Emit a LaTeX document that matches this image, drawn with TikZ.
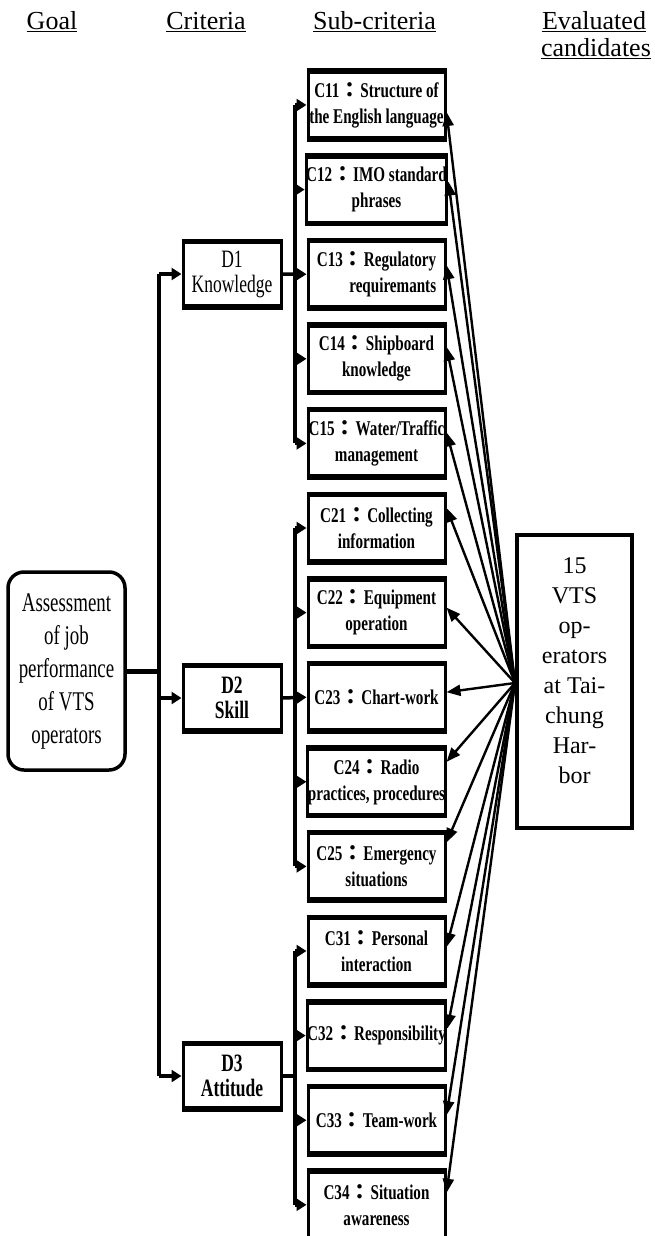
\documentclass[tikz,border=0pt]{standalone}
\usepackage{fontspec}
\setmainfont{Liberation Serif}
\newfontfamily\cond[FakeStretch=0.72]{Liberation Serif}
\newfontfamily\condd[FakeStretch=0.7]{Liberation Serif}
\newfontfamily\condgoal[FakeStretch=0.7]{Liberation Serif}
\newfontfamily\cjk{Noto Sans CJK TC}
\usetikzlibrary{arrows.meta}
\newcommand\fc{{\cjk ：}}
\newcommand\subfont{\cond\bfseries\fontsize{21}{26}\selectfont}
\newcommand\dfont{\condd\fontsize{25}{25}\selectfont}
\tikzset{
  sub/.style={draw, line width=3pt, minimum width=137pt, minimum height=70pt, inner sep=0pt, align=center, font=\subfont},
  crit/.style={draw, line width=3pt, minimum width=98pt, minimum height=68pt, inner sep=1pt, align=center, font=\dfont},
  bus/.style={line width=3.5pt},
  busarrow/.style={line width=3.5pt, -{Triangle[length=10pt,width=12pt]}},
  link/.style={line width=2.4pt, -{Triangle[length=14pt,width=11pt]}},
  head/.style={font=\fontsize{26}{27}\selectfont, inner sep=0pt, anchor=base},
  edge/.style={line width=5.5pt}
}
\begin{document}
\begin{tikzpicture}[x=1pt,y=-1pt]
\useasboundingbox (0,0) rectangle (654,1236);
\clip (0,0) rectangle (654,1236);
% headers
\node[head] (hgoal) at (52,30) {\underline{Goal}};
\node[head] (hcrit) at (206,30) {\underline{Criteria}};
\node[head] (hsub) at (374.5,30) {\underline{Sub-criteria}};
\node[head] (heval) at (594,30) {\underline{Evaluated}};
\node[head] (hcand) at (596,57) {\underline{candidates}};
% goal
\node[draw, rounded corners=16pt, line width=3.5pt, minimum width=117pt, minimum height=198pt, align=center, inner sep=1pt, font=\condgoal\fontsize{27}{33}\selectfont] (goal) at (66.5,671) {Assessment\\of job\\performance\\of VTS\\operators};
% criteria
\node[crit] (D1) at (232,274) {D1\\Knowledge};
\node[crit, font=\dfont\bfseries] (D2) at (232,698) {D2\\Skill};
\node[crit, font=\dfont\bfseries] (D3) at (232,1076) {D3\\Attitude};
% sub-criteria
\node[sub] (C11) at (376.5,105.0) {C11\fc Structure of\\the English language};
\node[sub] (C12) at (376.5,189.6) {C12\fc IMO standard\\phrases};
\node[sub, align=right] (C13) at (376.5,274.2) {C13\fc Regulatory\\requiremants};
\node[sub] (C14) at (376.5,358.8) {C14\fc Shipboard\\knowledge};
\node[sub] (C15) at (376.5,443.4) {C15\fc Water/Traffic\\management};
\node[sub] (C21) at (376.5,528.0) {C21\fc Collecting\\information};
\node[sub] (C22) at (376.5,612.6) {C22\fc Equipment\\operation};
\node[sub] (C23) at (376.5,697.2) {C23\fc Chart-work};
\node[sub] (C24) at (376.5,781.8) {C24\fc Radio\\practices, procedures};
\node[sub] (C25) at (376.5,866.4) {C25\fc Emergency\\situations};
\node[sub] (C31) at (376.5,951.0) {C31\fc Personal\\interaction};
\node[sub] (C32) at (376.5,1035.6) {C32\fc Responsibility};
\node[sub] (C33) at (376.5,1120.2) {C33\fc Team-work};
\node[sub] (C34) at (376.5,1204.8) {C34\fc Situation\\awareness};
% thicker top and bottom edges
\foreach \n in {C11,C12,C13,C14,C15,C21,C22,C23,C24,C25,C31,C32,C33,C34,D1,D2,D3}{
  \draw[edge] ([yshift=-2.75pt]\n.north west) -- ([yshift=-2.75pt]\n.north east);
  \draw[edge] ([yshift=2.75pt]\n.south west) -- ([yshift=2.75pt]\n.south east);
}
% candidates
\node[draw, line width=4pt, minimum width=115pt, minimum height=293pt] (cand) at (574.5,681.5) {};
\node[align=center, font=\fontsize{24}{30}\selectfont] (candtxt) at (574.5,671) {15\\VTS\\op-\\erators\\at Tai-\\chung\\Har-\\bor};
\coordinate (hub) at ([yshift=-1.5pt]cand.west);
% goal bus
\coordinate (gbus) at (159,671);
\draw[line width=5pt] (goal.east) -- (gbus);
\draw[bus] (gbus |- D1.west) -- (gbus |- D3.west);
\draw[busarrow] (gbus |- D1.west) -- (D1.west);
\draw[busarrow] (gbus |- D2.west) -- (D2.west);
\draw[busarrow] (gbus |- D3.west) -- (D3.west);
% sub buses
\coordinate (sb) at (295,0);
\draw[bus] (sb |- C11.west) -- (sb |- C15.west);
\draw[bus] (sb |- C21.west) -- (sb |- C25.west);
\draw[bus] (sb |- C31.west) -- (sb |- C34.west);
\foreach \c in {C11,C12,C14,C15,C21,C22,C24,C25,C31,C32,C33,C34}
  \draw[busarrow] (sb |- \c.west) -- (\c.west);
\draw[busarrow] (D1.east) -- (C13.west);
\draw[busarrow] (D2.east) -- (C23.west);
\draw[bus] (D3.east) -- (sb |- D3.east);
% links from candidates
\draw[link] (hub) -- ([yshift=-7pt]C11.east);
\draw[link] (hub) -- ([yshift=8pt]C12.east);
\draw[link] (hub) -- ([yshift=9pt]C13.east);
\draw[link] (hub) -- ([yshift=12pt]C14.east);
\draw[link] (hub) -- ([yshift=11pt]C15.east);
\draw[link] (hub) -- ([yshift=20pt]C21.east);
\draw[link] (hub) -- ([yshift=5pt]C22.east);
\draw[link] (hub) -- ([yshift=5pt]C23.east);
\draw[link] (hub) -- ([yshift=20pt]C24.east);
\draw[link] (hub) -- ([yshift=24pt]C25.east);
\draw[link] (hub) -- ([yshift=4pt]C31.east);
\draw[link] (hub) -- ([yshift=7pt]C32.east);
\draw[link] (hub) -- ([yshift=5pt]C33.east);
\draw[link] (hub) -- ([yshift=12pt]C34.east);
\end{tikzpicture}
\end{document}
